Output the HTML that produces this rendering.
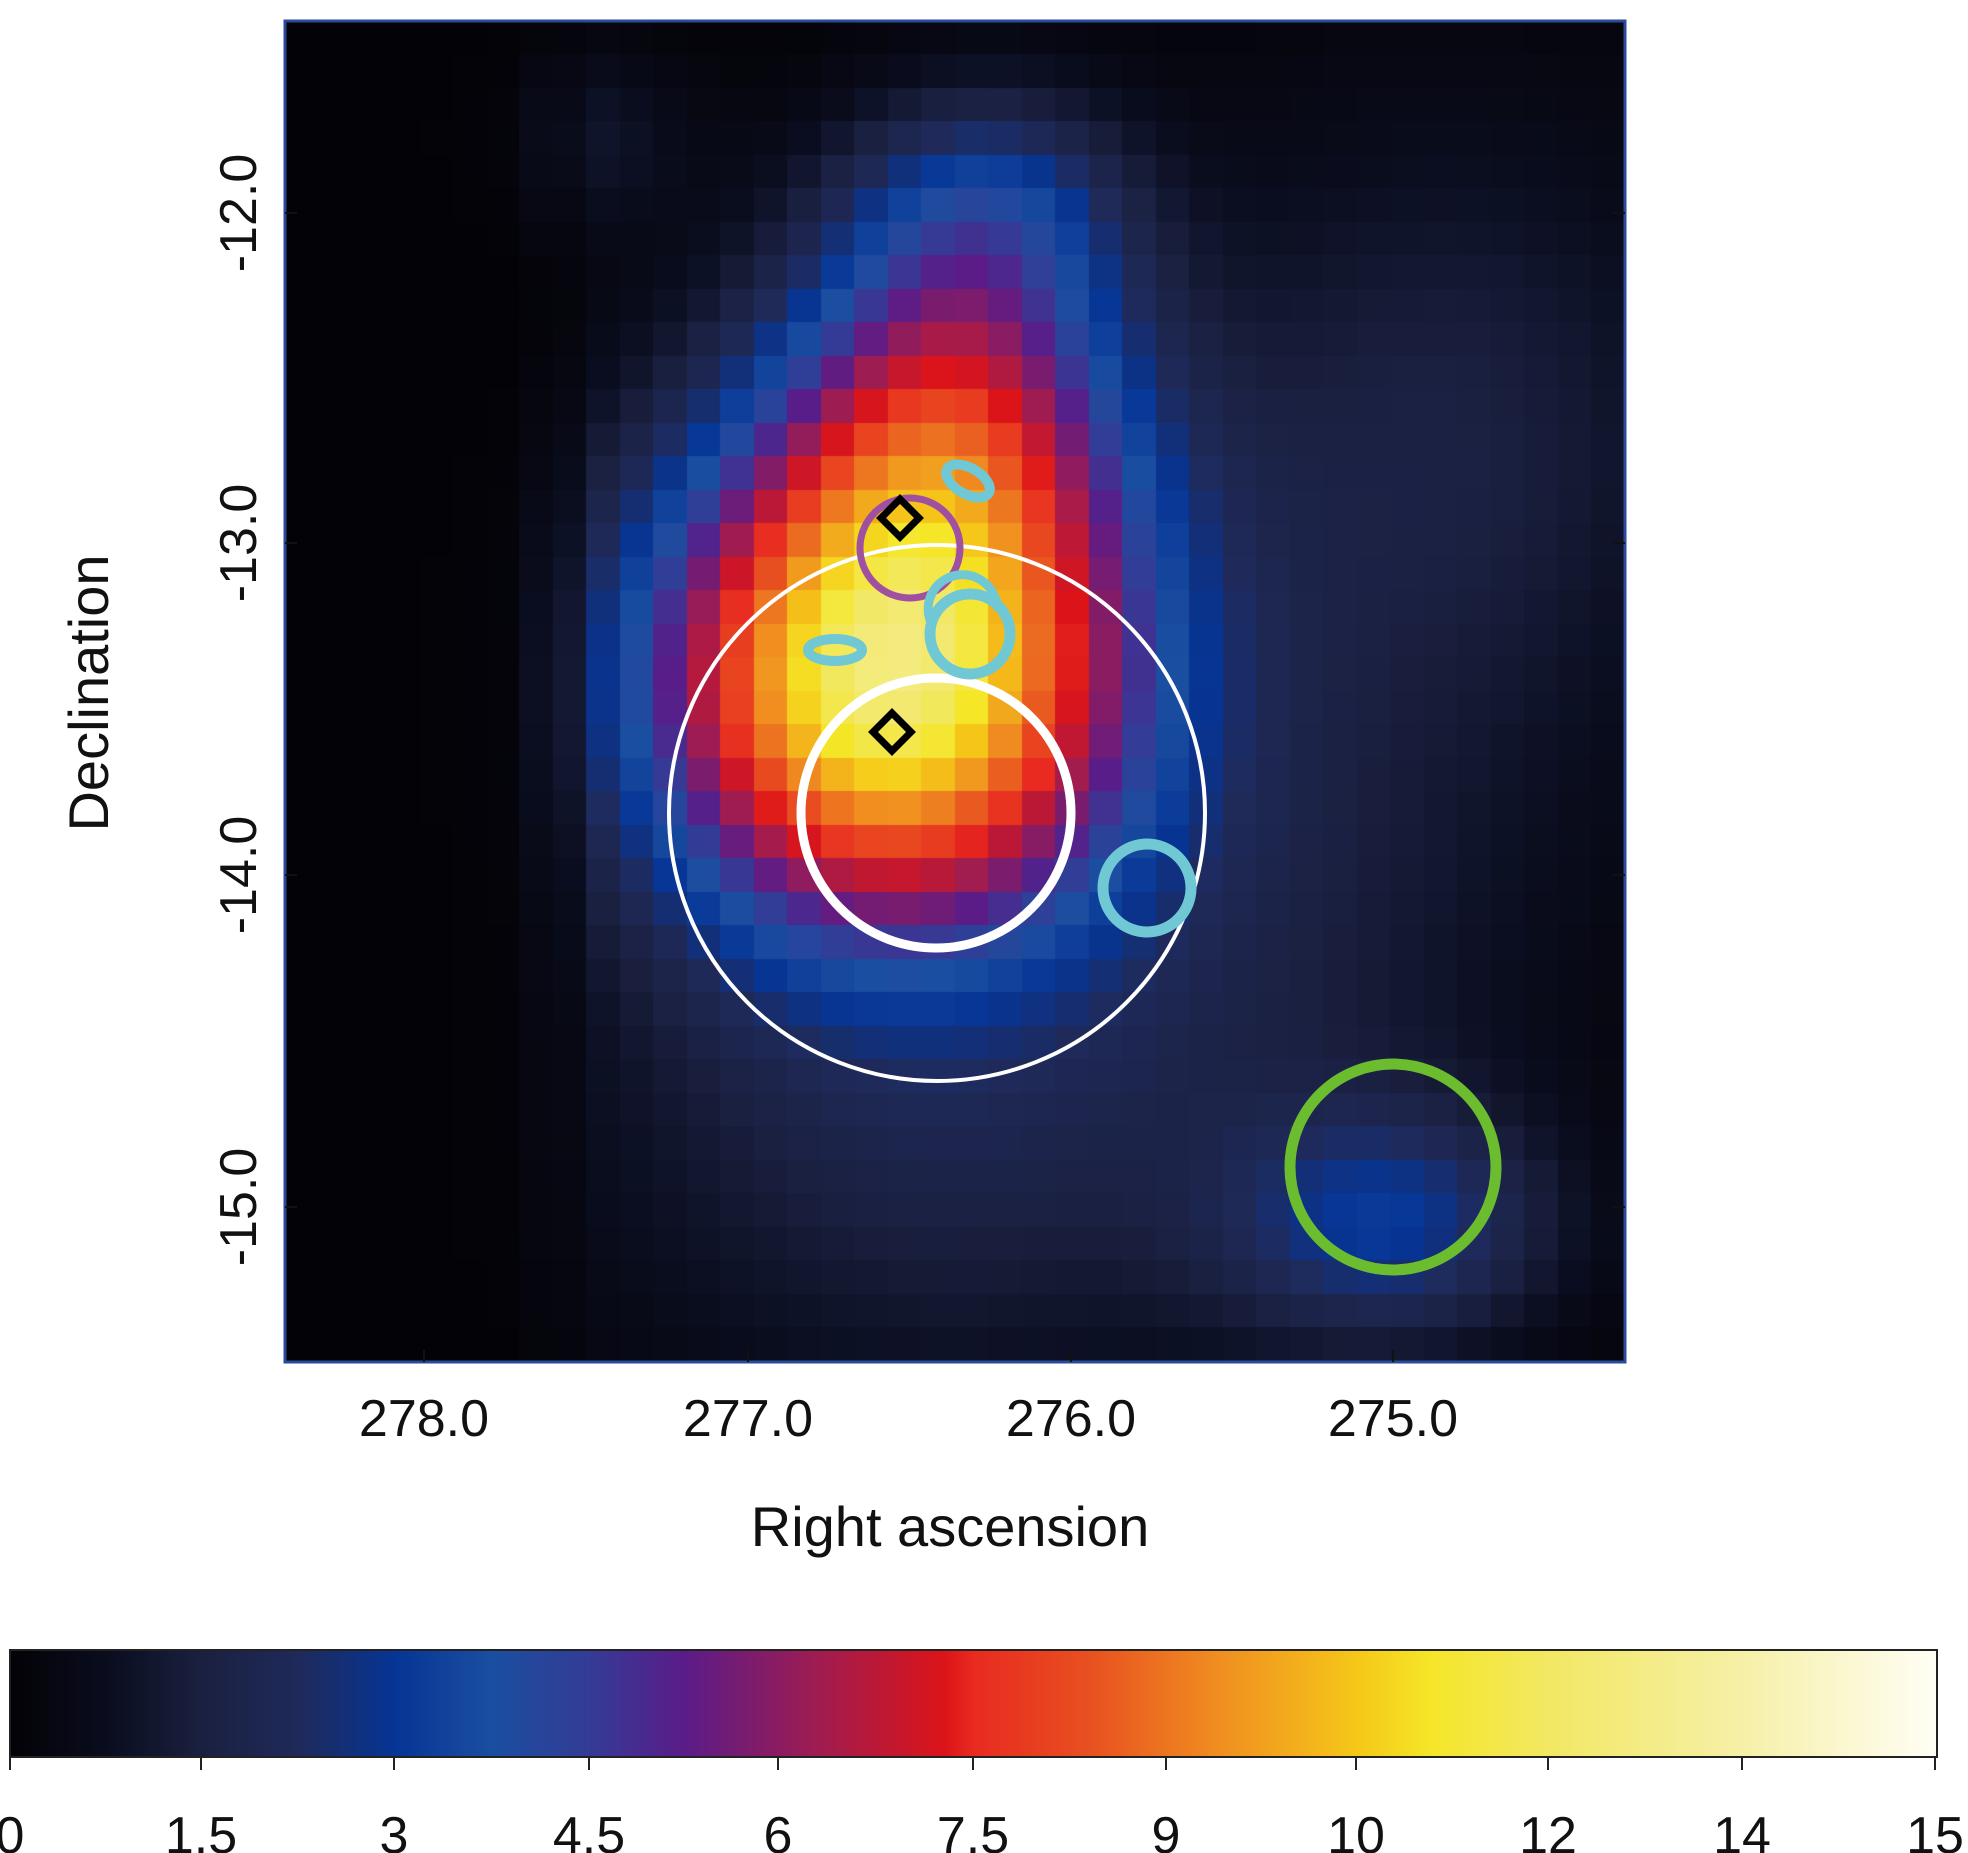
<!DOCTYPE html>
<html><head><meta charset="utf-8"><style>
html,body{margin:0;padding:0;background:#fff;}
body{width:1968px;height:1853px;position:relative;overflow:hidden;font-family:"Liberation Sans",sans-serif;}
canvas{position:absolute;left:285px;top:21px;}
svg{position:absolute;left:0;top:0;}
</style></head><body>
<canvas id="c" width="1340" height="1341"></canvas>
<svg width="1968" height="1853" xmlns="http://www.w3.org/2000/svg">
<defs>
<linearGradient id="cb" x1="0" x2="1" y1="0" y2="0">
<stop offset="0" stop-color="#030206"/>
<stop offset="0.05" stop-color="#0a0d1e"/>
<stop offset="0.1" stop-color="#1a2040"/>
<stop offset="0.15" stop-color="#1f2a5a"/>
<stop offset="0.2" stop-color="#063596"/>
<stop offset="0.25" stop-color="#1a4ea0"/>
<stop offset="0.3" stop-color="#333c96"/>
<stop offset="0.35" stop-color="#5a1c88"/>
<stop offset="0.42" stop-color="#a01c50"/>
<stop offset="0.485" stop-color="#dc1418"/>
<stop offset="0.5" stop-color="#e82a20"/>
<stop offset="0.56" stop-color="#e85020"/>
<stop offset="0.63" stop-color="#f09020"/>
<stop offset="0.7" stop-color="#f5c818"/>
<stop offset="0.737" stop-color="#f5e628"/>
<stop offset="0.8" stop-color="#f2e865"/>
<stop offset="0.9" stop-color="#f6f0a8"/>
<stop offset="1" stop-color="#fffef5"/>
</linearGradient>
</defs>
<rect x="285" y="21" width="1340" height="1341" fill="none" stroke="#2a4a9a" stroke-width="3"/>
<g stroke="#111" stroke-width="2">
<line x1="748" y1="1362" x2="748" y2="1350"/><line x1="1071" y1="1362" x2="1071" y2="1350"/><line x1="1393" y1="1362" x2="1393" y2="1350"/>
<line x1="424" y1="1362" x2="424" y2="1350"/>
<line x1="285" y1="213" x2="297" y2="213"/><line x1="285" y1="543" x2="297" y2="543"/><line x1="285" y1="875" x2="297" y2="875"/><line x1="285" y1="1207" x2="297" y2="1207"/>
<line x1="1625" y1="213" x2="1613" y2="213"/><line x1="1625" y1="543" x2="1613" y2="543"/><line x1="1625" y1="875" x2="1613" y2="875"/><line x1="1625" y1="1207" x2="1613" y2="1207"/>
</g>
<circle cx="937" cy="813" r="268" fill="none" stroke="#fff" stroke-width="4"/>
<circle cx="936" cy="813" r="135" fill="none" stroke="#fff" stroke-width="9"/>
<circle cx="910" cy="548" r="50" fill="none" stroke="#a050a0" stroke-width="7"/>
<circle cx="970" cy="634" r="40" fill="none" stroke="#70c8d4" stroke-width="11"/>
<circle cx="1147" cy="888" r="44" fill="none" stroke="#70c8d4" stroke-width="11"/>
<ellipse cx="968" cy="481" rx="24" ry="13" transform="rotate(30 968 481)" fill="none" stroke="#70c8d4" stroke-width="10"/>
<ellipse cx="835" cy="650" rx="27" ry="11" fill="none" stroke="#70c8d4" stroke-width="10"/>
<path d="M 930 620 A 28 28 0 0 1 995 598 A 28 28 0 0 1 998 610" fill="none" stroke="#70c8d4" stroke-width="9"/>
<circle cx="1393" cy="1167" r="103" fill="none" stroke="#6cbc30" stroke-width="11"/>
<path d="M900 499 L919 518 L900 537 L881 518 Z" fill="none" stroke="#000" stroke-width="7"/>
<path d="M892 713 L911 732 L892 751 L873 732 Z" fill="none" stroke="#000" stroke-width="7"/>
<g font-size="52" fill="#111" text-anchor="middle">
<text x="424" y="1436">278.0</text><text x="748" y="1436">277.0</text><text x="1071" y="1436">276.0</text><text x="1393" y="1436">275.0</text>
<text transform="translate(256 213) rotate(-90)">-12.0</text>
<text transform="translate(256 543) rotate(-90)">-13.0</text>
<text transform="translate(256 875) rotate(-90)">-14.0</text>
<text transform="translate(256 1207) rotate(-90)">-15.0</text>
<text x="950" y="1546" font-size="56">Right ascension</text>
<text transform="translate(108 693) rotate(-90)" font-size="56">Declination</text>
</g>
<rect x="10" y="1650" width="1927" height="107" fill="url(#cb)" stroke="#222" stroke-width="2"/>
<g stroke="#222" stroke-width="2">
<line x1="10" y1="1757" x2="10" y2="1770"/><line x1="201" y1="1757" x2="201" y2="1770"/><line x1="394" y1="1757" x2="394" y2="1770"/><line x1="589" y1="1757" x2="589" y2="1770"/><line x1="778" y1="1757" x2="778" y2="1770"/><line x1="973" y1="1757" x2="973" y2="1770"/><line x1="1166" y1="1757" x2="1166" y2="1770"/><line x1="1356" y1="1757" x2="1356" y2="1770"/><line x1="1548" y1="1757" x2="1548" y2="1770"/><line x1="1742" y1="1757" x2="1742" y2="1770"/><line x1="1935" y1="1757" x2="1935" y2="1770"/>
</g>
<g font-size="52" fill="#111" text-anchor="middle">
<text x="10" y="1853">0</text><text x="201" y="1853">1.5</text><text x="394" y="1853">3</text><text x="589" y="1853">4.5</text><text x="778" y="1853">6</text><text x="973" y="1853">7.5</text><text x="1166" y="1853">9</text><text x="1356" y="1853">10</text><text x="1548" y="1853">12</text><text x="1742" y="1853">14</text><text x="1935" y="1853">15</text>
</g>
</svg>
<script>
var stops=[[0,[3,2,6]],[0.05,[10,13,30]],[0.1,[26,32,64]],[0.15,[31,42,90]],[0.2,[6,53,150]],[0.25,[26,78,160]],[0.3,[51,60,150]],[0.35,[90,28,136]],[0.42,[160,28,80]],[0.485,[220,20,24]],[0.5,[232,42,32]],[0.56,[232,80,32]],[0.63,[240,144,32]],[0.7,[245,200,24]],[0.737,[245,230,40]],[0.8,[242,232,101]],[0.9,[246,240,168]],[1,[255,254,245]]];
function col(f){f=Math.max(0,Math.min(1,f));for(var i=1;i<stops.length;i++){if(f<=stops[i][0]){var a=stops[i-1],b=stops[i],t=(f-a[0])/(b[0]-a[0]);return 'rgb('+[0,1,2].map(function(k){return Math.round(a[1][k]+(b[1][k]-a[1][k])*t)}).join(',')+')';}}return 'rgb(255,254,245)';}
function g(c,r,A,cx,cy,sx,sy){return A*Math.exp(-((c-cx)*(c-cx)/(2*sx*sx)+(r-cy)*(r-cy)/(2*sy*sy)));}
var ctx=document.getElementById('c').getContext('2d');var cs=1340/40;
for(var r=0;r<40;r++)for(var c=0;c<40;c++){
var v=g(c,r,0.55,17.5,19.5,4.8,4.8)+g(c,r,0.25,17.5,18,5.5,6)+g(c,r,0.3,19.5,11,3.5,4)+g(c,r,0.15,20.5,5,3,2.5)+g(c,r,0.1,34,12,6,7)+g(c,r,0.1,19,33,8,6)+g(c,r,0.07,8,3,2.5,2)+g(c,r,0.17,32.5,35.5,3.5,2.5)+g(c,r,0.06,30,26,6,6);
if(c<7)v*=0.1+0.1*c/7; else if(c<9)v*=0.6;
ctx.fillStyle=col(v);ctx.fillRect(Math.floor(c*cs),Math.floor(r*cs),Math.ceil(cs)+1,Math.ceil(cs)+1);}
</script>
</body></html>
